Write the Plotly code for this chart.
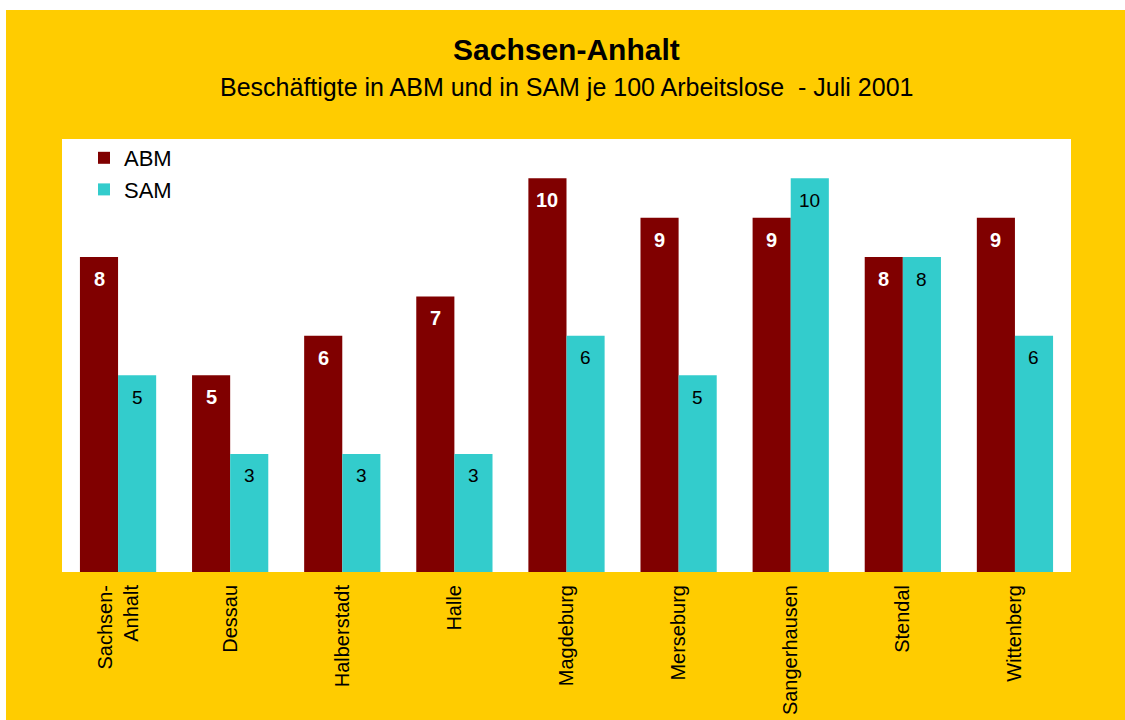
import plotly.graph_objects as go

categories = ["Sachsen-<br>Anhalt", "Dessau", "Halberstadt", "Halle", "Magdeburg",
              "Merseburg", "Sangerhausen", "Stendal", "Wittenberg"]
abm = [8, 5, 6, 7, 10, 9, 9, 8, 9]
sam = [5, 3, 3, 3, 6, 5, 10, 8, 6]

FONT = "Liberation Sans, Arial, sans-serif"
ORANGE = "#FFCC00"
ABM_COLOR = "#800000"
SAM_COLOR = "#33CCCC"

W, H = 1125, 720
ml, mr, mt, mb = 62, 54, 139, 148
pw = W - ml - mr
ph = H - mt - mb
BARGAP = 0.32
cat_px = pw / len(categories)
bar_px = cat_px * (1 - BARGAP) / 2


def px_x(p):
    return (p - ml) / pw


def px_y(p):
    return (H - mb - p) / ph


fig = go.Figure()
fig.add_trace(go.Bar(name="ABM", x=categories, y=abm, marker_color=ABM_COLOR,
                     marker_line_width=0, legendgroup="a"))
fig.add_trace(go.Bar(name="SAM", x=categories, y=sam, marker_color=SAM_COLOR,
                     marker_line_width=0, legendgroup="b"))

annotations = [
    dict(text="<b>Sachsen-Anhalt</b>", xref="paper", yref="paper", x=0.5, y=px_y(50),
         showarrow=False, xanchor="center", yanchor="middle",
         font=dict(family=FONT, size=30, color="black")),
    dict(text="Beschäftigte in ABM und in SAM je 100 Arbeitslose  - Juli 2001",
         xref="paper", yref="paper", x=0.5, y=px_y(87),
         showarrow=False, xanchor="center", yanchor="middle",
         font=dict(family=FONT, size=25, color="black")),
]
for c, v in zip(categories, abm):
    annotations.append(dict(text=f"<b>{v}</b>", x=c, y=v, xref="x", yref="y",
                            xshift=-bar_px / 2, yshift=-22, showarrow=False,
                            xanchor="center", yanchor="middle",
                            font=dict(family=FONT, size=20, color="white")))
for c, v in zip(categories, sam):
    annotations.append(dict(text=f"{v}", x=c, y=v, xref="x", yref="y",
                            xshift=bar_px / 2, yshift=-22, showarrow=False,
                            xanchor="center", yanchor="middle",
                            font=dict(family=FONT, size=19, color="black")))

fig.update_layout(
    width=W, height=H,
    margin=dict(l=ml, r=mr, t=mt, b=mb, pad=0, autoexpand=False),
    paper_bgcolor=ORANGE, plot_bgcolor="white",
    barmode="group", bargap=BARGAP, bargroupgap=0,
    font=dict(family=FONT, size=20, color="black"),
    showlegend=True,
    legend=dict(x=px_x(84), y=px_y(137), xanchor="left", yanchor="top",
                bgcolor="rgba(0,0,0,0)", traceorder="grouped", tracegroupgap=0,
                font=dict(family=FONT, size=22, color="black"),
                itemwidth=30),
    xaxis=dict(tickangle=-90, showline=False, ticks="", showgrid=False,
               ticklabelstandoff=8, automargin=False,
               tickfont=dict(family=FONT, size=20, color="black")),
    yaxis=dict(range=[0, 11], showticklabels=False, showgrid=False,
               zeroline=False, showline=False, ticks="", automargin=False),
    shapes=[
        dict(type="rect", xref="paper", yref="paper", x0=px_x(-20), x1=px_x(6),
             y0=px_y(800), y1=px_y(-20), fillcolor="white", line_width=0, layer="above"),
        dict(type="rect", xref="paper", yref="paper", x0=px_x(-20), x1=px_x(1200),
             y0=px_y(10), y1=px_y(-20), fillcolor="white", line_width=0, layer="above"),
    ],
    annotations=annotations,
)

fig.write_html("out.html", config={"displayModeBar": False},
               post_script="document.body.style.margin='0';document.body.style.padding='0';"
                           "document.body.style.overflow='hidden';"
                           "document.documentElement.style.overflow='hidden';")
